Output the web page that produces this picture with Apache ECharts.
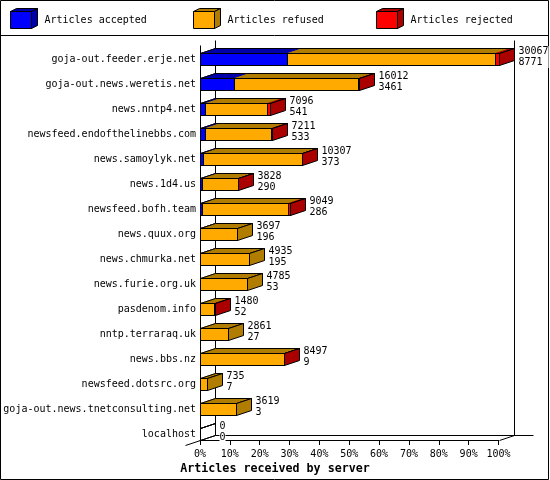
<!DOCTYPE html>
<html>
<head>
<meta charset="utf-8">
<style>html,body{margin:0;padding:0;background:#fff}#c{width:550px;height:480px}</style>
<script src="https://cdn.jsdelivr.net/npm/echarts@6/dist/echarts.min.js"></script>
</head>
<body>
<div id="c"></div>
<script>
const categories = ["goja-out.feeder.erje.net","goja-out.news.weretis.net","news.nntp4.net","newsfeed.endofthelinebbs.com","news.samoylyk.net","news.1d4.us","newsfeed.bofh.team","news.quux.org","news.chmurka.net","news.furie.org.uk","pasdenom.info","nntp.terraraq.uk","news.bbs.nz","newsfeed.dotsrc.org","goja-out.news.tnetconsulting.net","localhost"];
const acceptedPct = [29.2,11.4,1.8,1.7,0.9,0.7,0.6,0.1,0.1,0,0,0,0,0,0,0];
const refusedPct  = [69.6,41.45,20.6,22,33.3,11.95,29,12.2,16.3,15.9,4.85,9.5,28.25,2.4,12,0];
const rejectedPct = [1.2,0.4,1.2,0.3,0.1,0.05,0.5,0,0,0,0.05,0,0.05,0,0,0];
const upperLabels = [30067,16012,7096,7211,10307,3828,9049,3697,4935,4785,1480,2861,8497,735,3619,0];
const lowerLabels = [8771,3461,541,533,373,290,286,196,195,53,52,27,9,7,3,0];
const seriesNames = ["Articles accepted","Articles refused","Articles rejected"];
const frontColors = ["#0000ff","#ffaa00","#ff0000"];
const depthColors = ["#0000aa","#b07d00","#aa0000"];
const legendLefts = [10,193,376];

const DX = 15, DY = 5, BAR_SHIFT = 6.5, BAR_HALF = 6;
const FONT = '"DejaVu Sans Mono", monospace';
const px = v => Math.round(v) + 0.5;

function barBox(api, a, b) {
  const p0 = api.coord([a, api.value(0)]), p1 = api.coord([b, api.value(0)]);
  const c = p0[1] + BAR_SHIFT;
  return {x0: px(p0[0]), x1: px(p1[0]), y0: px(c - BAR_HALF), y1: px(c + BAR_HALF)};
}

function segmentItem(k) {
  return function (params, api) {
    const a = api.value(1), b = api.value(2);
    if (b - a <= 0) return {type: 'group', children: []};
    const r = barBox(api, a, b);
    return {type: 'group', children: [
      {type: 'polygon', shape: {points: [[r.x0,r.y0],[r.x0+DX,r.y0-DY],[r.x1+DX,r.y0-DY],[r.x1,r.y0]]},
       style: {fill: depthColors[k], stroke: depthColors[k], lineWidth: 1}},
      {type: 'rect', shape: {x: r.x0, y: r.y0, width: r.x1 - r.x0, height: r.y1 - r.y0},
       style: {fill: frontColors[k], stroke: '#000', lineWidth: 1}}
    ]};
  };
}

function segmentData(k) {
  return categories.map((_, i) => {
    const a = acceptedPct[i], r = refusedPct[i], j = rejectedPct[i];
    const edges = [0, a, a + r, a + r + j];
    return [i, edges[k], edges[k + 1]];
  });
}

function outlineItem(params, api) {
  const i = params.dataIndex;
  const total = api.value(1);
  const r = barBox(api, 0, total);
  const k = rejectedPct[i] > 0 ? 2 : refusedPct[i] > 0 ? 1 : acceptedPct[i] > 0 ? 0 : -1;
  const line = {stroke: '#000', lineWidth: 1};
  return {type: 'group', children: [
    {type: 'polygon', shape: {points: [[r.x0,r.y0],[r.x0+DX,r.y0-DY],[r.x1+DX,r.y0-DY],[r.x1,r.y0]]},
     style: Object.assign({fill: 'none'}, line)},
    {type: 'polygon', shape: {points: [[r.x1,r.y0],[r.x1+DX,r.y0-DY],[r.x1+DX,r.y1-DY],[r.x1,r.y1]]},
     style: Object.assign({fill: k < 0 ? 'none' : depthColors[k]}, line)},
    {type: 'rect', shape: {x: r.x0, y: r.y0, width: r.x1 - r.x0, height: r.y1 - r.y0},
     style: Object.assign({fill: 'none'}, line)},
    {type: 'text', style: {x: r.x1 + DX + 4, y: (r.y0 + r.y1) / 2 - 2.5,
       text: upperLabels[i] + '\n' + lowerLabels[i], fill: '#000', font: '10px ' + FONT,
       lineHeight: 11, align: 'left', verticalAlign: 'middle', backgroundColor: '#fff'}}
  ]};
}

function frameItem(params, api) {
  const g = params.coordSys;
  const L = g.x, R = g.x + g.width, T = g.y, B = g.y + g.height;
  const seg = (x1, y1, x2, y2) => ({type: 'line', shape: {x1: px(x1), y1: px(y1), x2: px(x2), y2: px(y2)},
    style: {stroke: '#000', lineWidth: 1}});
  return {type: 'group', children: [
    seg(L, T + DY, L, B),
    seg(L + DX, T, L + DX, B - DY),
    seg(R + DX, T, R + DX, B - DY),
    seg(L + DX, B - DY, R + 34, B - DY),
    seg(L - DX, B + DY, L + DX, B - DY),
    seg(R, B, R + DX, B - DY)
  ]};
}

const swatchDepth = legendLefts.map((x, k) => ({
  type: 'group', silent: true, children: [
    {type: 'polygon', shape: {points: [[x+0.5,11.5],[x+6.5,8.5],[x+27.5,8.5],[x+21.5,11.5]]},
     style: {fill: depthColors[k], stroke: '#000', lineWidth: 1}},
    {type: 'polygon', shape: {points: [[x+21.5,11.5],[x+27.5,8.5],[x+27.5,25.5],[x+21.5,28.5]]},
     style: {fill: depthColors[k], stroke: '#000', lineWidth: 1}}
  ]
}));

const series = [
  {type: 'custom', name: 'frame', renderItem: frameItem, data: [[0, 0]], encode: {x: 1, y: 0}, silent: true, z: 1}
];
seriesNames.forEach((name, k) => series.push({
  type: 'custom', name, renderItem: segmentItem(k), data: segmentData(k),
  encode: {x: [1, 2], y: 0}, itemStyle: {color: frontColors[k]}, z: 2
}));
series.push({
  type: 'custom', name: 'outline', renderItem: outlineItem,
  data: categories.map((_, i) => [i, acceptedPct[i] + refusedPct[i] + rejectedPct[i]]),
  encode: {x: 1, y: 0}, silent: true, z: 3
});

const chart = echarts.init(document.getElementById('c'), null, {width: 550, height: 480});
chart.setOption({
  animation: false,
  backgroundColor: '#fff',
  textStyle: {fontFamily: FONT},
  title: {text: 'Articles received by server', left: 'center', top: 463, padding: 0,
    textStyle: {fontFamily: FONT, fontSize: 11.67, fontWeight: 'bold', color: '#000'}},
  legend: seriesNames.map((name, k) => ({
    data: [name], left: legendLefts[k], top: 11, padding: 0, itemWidth: 21, itemHeight: 17,
    icon: 'rect', selectedMode: false,
    itemStyle: {borderColor: '#000', borderWidth: 1},
    textStyle: {fontFamily: FONT, fontSize: 10, color: '#000', padding: [1, 0, 0, 8]}
  })),
  grid: {left: 200, top: 40, width: 298.5, height: 400, containLabel: false},
  xAxis: {type: 'value', min: 0, max: 100, interval: 10,
    axisLine: {show: true, lineStyle: {color: '#000', width: 1}},
    axisTick: {show: true, length: 5, lineStyle: {color: '#000', width: 1}},
    axisLabel: {color: '#000', fontFamily: FONT, fontSize: 10, margin: 9, formatter: '{value}%',
      showMinLabel: true, showMaxLabel: true},
    splitLine: {show: false}},
  yAxis: {type: 'category', inverse: true, data: categories,
    axisLine: {show: false}, axisTick: {show: false},
    axisLabel: {color: '#000', fontFamily: FONT, fontSize: 10, margin: 4, interval: 0,
      verticalAlign: 'top', lineHeight: 13},
    splitLine: {show: false}},
  graphic: [
    {type: 'rect', silent: true, z: -1, shape: {x: 0.5, y: 0.5, width: 548, height: 479},
     style: {fill: 'none', stroke: '#000', lineWidth: 1}},
    {type: 'line', silent: true, z: -1, shape: {x1: 0, y1: 35.5, x2: 549, y2: 35.5},
     style: {stroke: '#000', lineWidth: 1}}
  ].concat(swatchDepth),
  series
});
</script>
</body>
</html>
